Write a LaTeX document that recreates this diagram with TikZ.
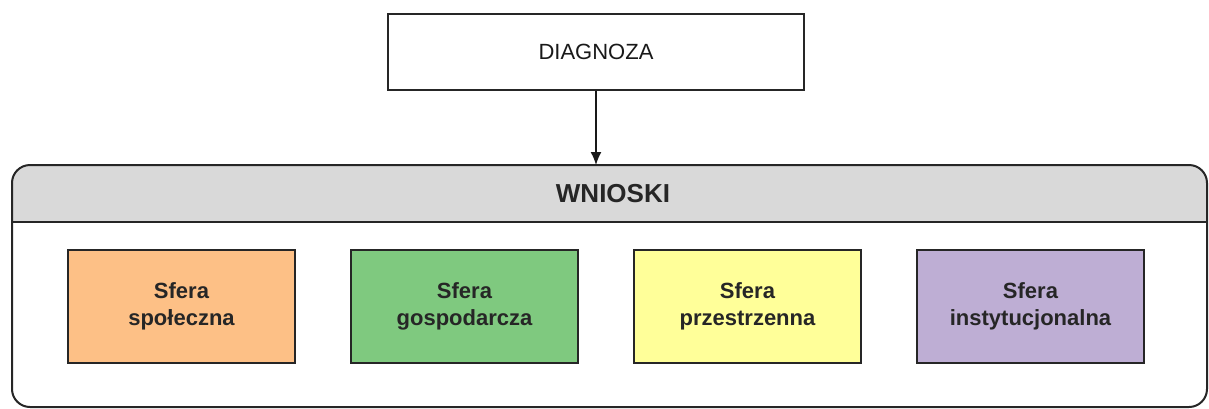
\documentclass[tikz,border=0pt]{standalone}
\usepackage{fontspec}
\usetikzlibrary{arrows.meta}
\setmainfont{Liberation Sans}
\definecolor{cOrange}{HTML}{FDC086}
\definecolor{cGreen}{HTML}{7FC97F}
\definecolor{cYellow}{HTML}{FFFF99}
\definecolor{cPurple}{HTML}{BEAED4}
\definecolor{cHead}{HTML}{D9D9D9}
\begin{document}
\begin{tikzpicture}[x=1pt,y=-1pt,
  sferabox/.style={draw=black!85, line width=1.5pt, minimum width=227pt, minimum height=113pt,
    inner sep=0pt, align=center, font=\fontsize{22}{27}\selectfont\bfseries, text=black!85},
  topbox/.style={draw=black!85, line width=1.5pt, minimum width=416pt, minimum height=76pt,
    inner sep=0pt, font=\fontsize{22}{26}\selectfont, text=black!90},
  conn/.style={line width=1.5pt, black!90, -{Latex[length=13pt,width=11pt]}}]
\useasboundingbox (0,0) rectangle (1209,408);
% container
\fill[cHead] (12,222) {[rounded corners=18pt] -- (12,165) -- (1207,165)} -- (1207,222) -- cycle;
\draw[line width=2pt, black!85, rounded corners=18pt] (12,165) rectangle (1207,407);
\draw[line width=2pt, black!85] (12,222) -- (1207,222);
\node[font=\fontsize{26}{30}\selectfont\bfseries, text=black!85] (wnioski) at (613,194) {WNIOSKI};
\coordinate (ctop) at (596,165);
% diagnoza
\node[topbox] (diag) at (596,52) {DIAGNOZA};
\draw[conn] (diag.south) -- (ctop);
% spheres
\node[sferabox, fill=cOrange] (s1) at (181.5,306.5) {Sfera\\społeczna};
\node[sferabox, fill=cGreen] (s2) at (464.5,306.5) {Sfera\\gospodarcza};
\node[sferabox, fill=cYellow] (s3) at (747.5,306.5) {Sfera\\przestrzenna};
\node[sferabox, fill=cPurple] (s4) at (1030.5,306.5) {Sfera\\instytucjonalna};
\end{tikzpicture}
\end{document}
